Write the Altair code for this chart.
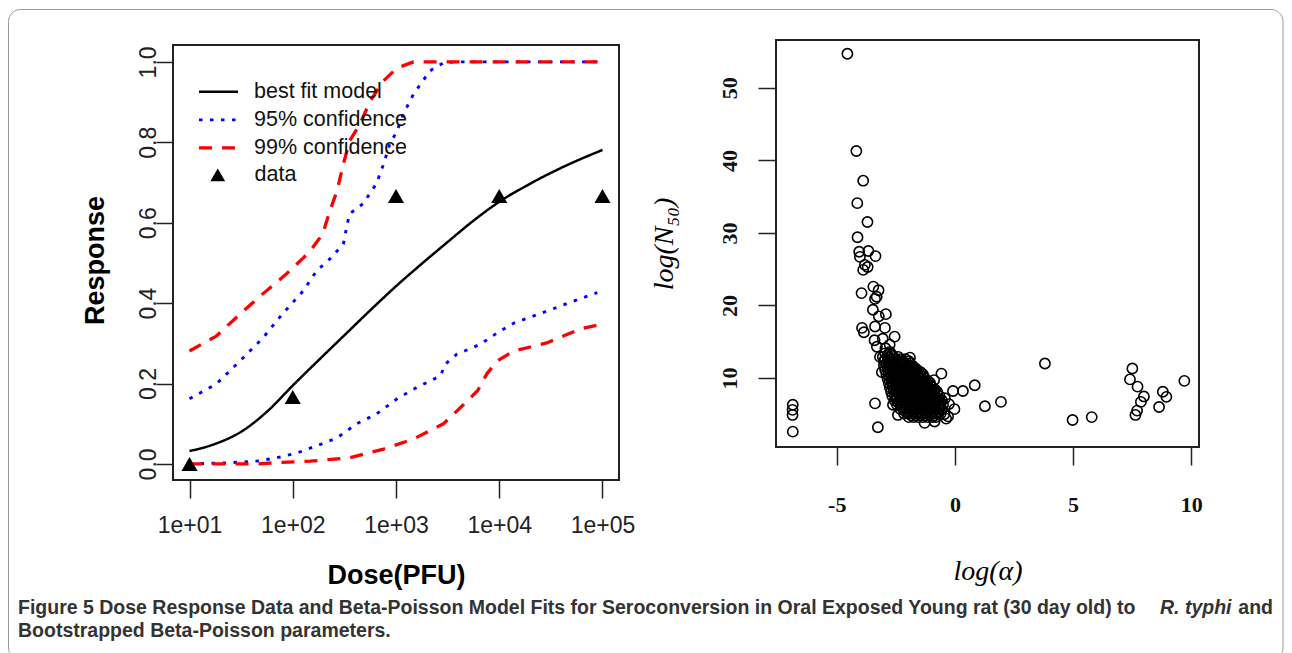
import altair as alt
import pandas as pd

# ---------------- Left panel: dose response (x = log10 dose) ----------------
best_x = [1.0, 1.25, 1.5, 1.75, 2.0, 2.25, 2.5, 2.75, 3.0, 3.25, 3.5, 3.75, 4.0, 4.25, 4.5, 4.75, 5.0]
best_y = [0.032, 0.050, 0.080, 0.130, 0.195, 0.258, 0.320, 0.382, 0.442, 0.498, 0.552, 0.605, 0.652, 0.690, 0.724, 0.754, 0.781]

ci95_up_x = [1.0, 1.26, 1.52, 1.71, 1.90, 2.10, 2.23, 2.36, 2.49, 2.52, 2.55, 2.68, 2.81, 2.88, 2.94, 3.01, 3.07, 3.17, 3.33, 3.46, 3.6, 5.0]
ci95_up_y = [0.162, 0.199, 0.264, 0.313, 0.373, 0.43, 0.48, 0.51, 0.547, 0.587, 0.622, 0.647, 0.697, 0.746, 0.796, 0.828, 0.87, 0.92, 0.978, 0.998, 1.0, 1.0]
ci95_lo_x = [1.0, 1.39, 1.65, 1.84, 2.04, 2.23, 2.43, 2.62, 2.81, 3.01, 3.20, 3.43, 3.48, 3.59, 3.82, 3.98, 4.14, 4.46, 4.72, 4.95]
ci95_lo_y = [0.0, 0.003, 0.007, 0.015, 0.027, 0.045, 0.065, 0.10, 0.124, 0.162, 0.19, 0.219, 0.249, 0.273, 0.298, 0.326, 0.35, 0.38, 0.405, 0.426]

ci99_up_x = [1.0, 1.26, 1.49, 1.71, 1.94, 2.10, 2.17, 2.29, 2.36, 2.43, 2.49, 2.55, 2.65, 2.75, 2.88, 3.01, 3.17, 5.0]
ci99_up_y = [0.281, 0.318, 0.373, 0.423, 0.473, 0.512, 0.53, 0.572, 0.63, 0.68, 0.746, 0.803, 0.845, 0.903, 0.953, 0.985, 1.0, 1.0]
ci99_lo_x = [1.0, 1.65, 1.84, 2.17, 2.55, 2.88, 3.17, 3.46, 3.62, 3.79, 3.88, 3.98, 4.14, 4.46, 4.62, 4.79, 5.0]
ci99_lo_y = [0.0, 0.0, 0.003, 0.007, 0.015, 0.037, 0.062, 0.10, 0.139, 0.182, 0.224, 0.256, 0.281, 0.301, 0.318, 0.336, 0.348]

obs_x = [1, 2, 3, 4, 5]
obs_y = [0.0, 0.1667, 0.6667, 0.6667, 0.6667]

series_names = ["best fit model", "95% confidence", "99% confidence"]
dose_ticks = [1, 2, 3, 4, 5]
resp_ticks = [0, 0.2, 0.4, 0.6, 0.8, 1.0]

# ---------------- Right panel: bootstrapped parameters ----------------
out_alpha = [-4.55, -4.17, -3.88, -4.13, -3.70, -4.12, -4.05, -3.66, -3.36, -3.88, -3.69, -3.81, -4.02,
             -3.95, -3.45, -3.23, -3.31, -3.38, -3.47, -2.92, -3.22, -3.93, -3.85, -3.38, -3.40, -2.96,
             -2.55, -3.17, -2.94, -2.76, -2.75, -1.90, -3.09, -1.66, -0.57, -0.88, -0.08, 0.34, 0.84,
             -0.02, 1.27, 1.95, 3.81, 4.98, 5.79,
             7.51, 7.41, 7.73, 8.00, 7.87, 7.71, 7.64, 8.64, 8.80, 8.95, 9.71,
             -6.86, -6.87, -6.87, -6.86, -3.38, -3.26,
             -2.41, -2.62, -0.29, -0.86, -1.28, -0.37, -0.42, -0.25, -0.45, -3.30, -3.05]
out_n50 = [54.7, 41.3, 37.2, 34.1, 31.5, 29.4, 27.4, 27.5, 26.8, 24.9, 25.3, 25.6, 26.7,
           21.7, 22.6, 22.1, 21.2, 20.9, 19.4, 18.8, 18.5, 16.9, 16.3, 17.1, 15.2, 16.9,
           15.7, 12.9, 14.1, 14.6, 13.6, 12.8, 10.8, 11.2, 10.6, 9.7, 8.2, 8.2, 9.0,
           5.7, 6.1, 6.7, 12.0, 4.2, 4.6,
           11.3, 9.8, 8.8, 7.45, 6.7, 5.5, 4.9, 6.0, 8.1, 7.4, 9.6,
           6.3, 5.6, 4.9, 2.6, 6.5, 3.2,
           4.9, 6.3, 4.7, 4.0, 3.8, 4.4, 7.2, 6.4, 5.0, 14.3, 15.4]

# dense core of the bootstrap cloud, one row of log(alpha) values per log(N50) level
core_rows = [
    (13.4, [-2.95, -2.75]),
    (13.15, [-2.85, -2.65]),
    (12.9, [-3.05, -2.85, -2.6, -2.4]),
    (12.6, [-2.95, -2.7, -2.5, -2.3, -2.1]),
    (12.3, [-3.0, -2.8, -2.6, -2.4, -2.2, -1.95]),
    (12.0, [-2.9, -2.7, -2.5, -2.3, -2.1, -1.9]),
    (11.7, [-3.0, -2.8, -2.6, -2.4, -2.2, -2.0, -1.8]),
    (11.4, [-2.85, -2.65, -2.45, -2.25, -2.05, -1.85, -1.7]),
    (11.1, [-2.95, -2.75, -2.55, -2.35, -2.15, -1.95, -1.75, -1.6]),
    (10.8, [-2.8, -2.6, -2.4, -2.2, -2.0, -1.8, -1.6, -1.45]),
    (10.5, [-2.9, -2.7, -2.5, -2.3, -2.1, -1.9, -1.7, -1.5, -1.35]),
    (10.2, [-2.75, -2.55, -2.35, -2.15, -1.95, -1.75, -1.55, -1.35]),
    (9.9, [-2.85, -2.65, -2.45, -2.25, -2.05, -1.85, -1.65, -1.45, -1.25]),
    (9.6, [-2.7, -2.5, -2.3, -2.1, -1.9, -1.7, -1.5, -1.3, -1.15]),
    (9.3, [-2.8, -2.6, -2.4, -2.2, -2.0, -1.8, -1.6, -1.4, -1.2, -1.05]),
    (9.0, [-2.65, -2.45, -2.25, -2.05, -1.85, -1.65, -1.45, -1.25, -1.05]),
    (8.7, [-2.75, -2.55, -2.35, -2.15, -1.95, -1.75, -1.55, -1.35, -1.15, -0.95]),
    (8.4, [-2.6, -2.4, -2.2, -2.0, -1.8, -1.6, -1.4, -1.2, -1.0, -0.85]),
    (8.1, [-2.7, -2.5, -2.3, -2.1, -1.9, -1.7, -1.5, -1.3, -1.1, -0.9, -0.75]),
    (7.8, [-2.55, -2.35, -2.15, -1.95, -1.75, -1.55, -1.35, -1.15, -0.95, -0.75]),
    (7.5, [-2.65, -2.45, -2.25, -2.05, -1.85, -1.65, -1.45, -1.25, -1.05, -0.85, -0.65]),
    (7.2, [-2.5, -2.3, -2.1, -1.9, -1.7, -1.5, -1.3, -1.1, -0.9, -0.7]),
    (6.9, [-2.55, -2.35, -2.15, -1.95, -1.75, -1.55, -1.35, -1.15, -0.95, -0.75, -0.55]),
    (6.6, [-2.4, -2.2, -2.0, -1.8, -1.6, -1.4, -1.2, -1.0, -0.8, -0.6]),
    (6.3, [-2.45, -2.25, -2.05, -1.85, -1.65, -1.45, -1.25, -1.05, -0.85, -0.65, -0.5]),
    (6.0, [-2.25, -2.05, -1.85, -1.65, -1.45, -1.25, -1.05, -0.85, -0.65]),
    (5.7, [-2.3, -2.1, -1.9, -1.7, -1.5, -1.3, -1.1, -0.9, -0.7, -0.55]),
    (5.4, [-2.1, -1.9, -1.7, -1.5, -1.3, -1.1, -0.9, -0.7]),
    (5.1, [-2.15, -1.95, -1.75, -1.55, -1.35, -1.15, -0.95, -0.75, -0.6]),
    (4.85, [-1.85, -1.65, -1.45, -1.25, -1.05, -0.85]),
    (4.6, [-1.95, -1.75, -1.55, -1.35, -1.15, -0.95, -0.8]),
]
alpha_ticks = [-5, 0, 5, 10]
n50_ticks = [10, 20, 30, 40, 50]

caption_main = ("Figure 5 Dose Response Data and Beta-Poisson Model Fits for Seroconversion "
                "in Oral Exposed Young rat (30 day old) to")
caption_italic = "R. typhi"
caption_end = "and"
caption_line2 = "Bootstrapped Beta-Poisson parameters."

# ---------------- tables ----------------
rows = []
def add(series, curve, xs, ys):
    for a, b in zip(xs, ys):
        rows.append({"x": a, "y": b, "series": series, "curve": curve})
add(series_names[0], "best", best_x, best_y)
add(series_names[1], "95up", ci95_up_x, ci95_up_y)
add(series_names[1], "95lo", ci95_lo_x, ci95_lo_y)
add(series_names[2], "99up", ci99_up_x, ci99_up_y)
add(series_names[2], "99lo", ci99_lo_x, ci99_lo_y)
lines_df = pd.DataFrame(rows)
obs_df = pd.DataFrame({"x": obs_x, "y": obs_y, "kind": ["data"] * len(obs_x)})

sc_a = list(out_alpha)
sc_n = list(out_n50)
for yv, xs in core_rows:
    for xv in xs:
        sc_a.append(xv)
        sc_n.append(yv)
scatter_df = pd.DataFrame({"a": sc_a, "n": sc_n})

SANS = "Liberation Sans, Arial, Helvetica, sans-serif"
SERIF = "Liberation Serif, Times New Roman, DejaVu Serif, serif"
INK = "#222222"
one = pd.DataFrame({"v": [0]})

# ---------------- left chart ----------------
sx = alt.Scale(domain=[0.84, 5.16], nice=False, zero=False)
sy = alt.Scale(domain=[-0.04, 1.0545], nice=False, zero=False)
xax = alt.Axis(values=dose_ticks, labelExpr="'1e+0' + datum.value", domain=False, grid=False,
               tickSize=18, tickWidth=1.5, tickColor=INK, labelFont=SANS, labelFontSize=23,
               labelColor=INK, labelPadding=16, labelFlush=False, labelOverlap=False,
               title="Dose(PFU)", titleFont=SANS, titleFontSize=27, titleFontWeight="bold",
               titleColor="black", titlePadding=25)
yax = alt.Axis(values=resp_ticks, format=".1f", domain=False, grid=False, tickSize=17,
               tickWidth=1.5, tickColor=INK, labelFont=SANS, labelFontSize=23, labelColor=INK,
               labelAngle=270, labelAlign="center", labelBaseline="alphabetic", labelPadding=1,
               labelFlush=False, labelOverlap=False,
               title="Response", titleFont=SANS, titleFontSize=27, titleFontWeight="bold",
               titleColor="black", titlePadding=28)

color_sc = alt.Scale(domain=series_names, range=["black", "#0000ff", "#ff0000"])
dash_sc = alt.Scale(domain=series_names, range=[[1, 0], [3.5, 7.5], [13, 10]])
width_sc = alt.Scale(domain=series_names, range=[2.5, 3.3, 3.0])
leg_lines = alt.Legend(title=None, orient="none", legendX=24, legendY=38, symbolType="stroke",
                       symbolSize=1521, symbolStrokeWidth=3, labelFont=SANS, labelFontSize=21.5,
                       labelColor="#111111", labelOffset=14, clipHeight=27.7, rowPadding=0,
                       padding=0, labelLimit=400)
leg_pts = alt.Legend(title=None, orient="none", legendX=34, legendY=121, symbolSize=220,
                     symbolFillColor="black", symbolStrokeColor="black", symbolStrokeWidth=0,
                     labelFont=SANS, labelFontSize=21.5, labelColor="#111111", labelOffset=26,
                     clipHeight=27.7, rowPadding=0, padding=0, labelLimit=400)

def line_layer(name, interp):
    return alt.Chart(lines_df).transform_filter(alt.datum.series == name).mark_line(
        strokeCap="butt", strokeJoin="round", interpolate=interp).encode(
        x=alt.X("x:Q", scale=sx, axis=xax),
        y=alt.Y("y:Q", scale=sy, axis=yax),
        color=alt.Color("series:N", scale=color_sc, legend=leg_lines),
        strokeDash=alt.StrokeDash("series:N", scale=dash_sc, legend=leg_lines),
        strokeWidth=alt.StrokeWidth("series:N", scale=width_sc, legend=None),
        detail="curve:N",
    )

pts = alt.Chart(obs_df).mark_point(filled=True, color="black", opacity=1, size=260).encode(
    x=alt.X("x:Q", scale=sx, axis=xax),
    y=alt.Y("y:Q", scale=sy, axis=yax),
    shape=alt.Shape("kind:N", scale=alt.Scale(domain=["data"], range=["triangle-up"]), legend=leg_pts),
)

# plot frame of the left panel (its top sits 5px below the shared top line)
left_box = alt.Chart(one).mark_rect(fillOpacity=0, stroke=INK, strokeWidth=2).encode(
    x=alt.value(0), x2=alt.value(446), y=alt.value(5), y2=alt.value(440))

# figure frame and caption (positions relative to the left plot's origin)
frame = alt.Chart(one).mark_rect(fillOpacity=0, stroke="#9a9a9a", strokeWidth=1,
                                 cornerRadius=12).encode(
    x=alt.value(-164.5), x2=alt.value(1110), y=alt.value(-30.5), y2=alt.value(620))

CAP_SIZE = 19.5
def cap_text(txt, x, y, align="left", style="normal"):
    return alt.Chart(pd.DataFrame({"t": [txt]})).mark_text(
        align=align, baseline="alphabetic", font=SANS, fontSize=CAP_SIZE, fontWeight="bold",
        fontStyle=style, color="#333333").encode(text="t:N", x=alt.value(x), y=alt.value(y))

left = alt.layer(
    frame, left_box,
    line_layer(series_names[0], "monotone"), line_layer(series_names[1], "linear"),
    line_layer(series_names[2], "linear"), pts,
    cap_text(caption_main, -155, 574),
    cap_text(caption_italic, 987, 574, style="italic"),
    cap_text(caption_end, 1100, 574, align="right"),
    cap_text(caption_line2, -155, 597),
).properties(width=446, height=440)

# ---------------- right chart ----------------
rx = alt.Scale(domain=[-7.57, 10.33], nice=False, zero=False)
ry = alt.Scale(domain=[0.48, 56.6], nice=False, zero=False)
right = alt.Chart(scatter_df).mark_point(shape="circle", filled=False, size=105, strokeWidth=1.6,
                                         color="black", opacity=1).encode(
    x=alt.X("a:Q", scale=rx, axis=alt.Axis(
        values=alpha_ticks, labelExpr="'' + datum.value", domain=False, grid=False, tickSize=18,
        tickWidth=1.5, tickColor=INK, labelFont=SERIF, labelFontSize=22, labelFontWeight="bold",
        labelColor="#111111", labelPadding=29, labelFlush=False, labelOverlap=False,
        title="log(α)", titleFont=SERIF, titleFontSize=28, titleFontStyle="italic",
        titleFontWeight="normal", titleColor="black", titlePadding=42)),
    y=alt.Y("n:Q", scale=ry, axis=alt.Axis(
        values=n50_ticks, domain=False, grid=False, tickSize=18, tickWidth=1.5, tickColor=INK,
        labelFont=SERIF, labelFontSize=22, labelFontWeight="bold", labelColor="#111111",
        labelAngle=270, labelAlign="center", labelBaseline="alphabetic", labelPadding=22,
        labelFlush=False, labelOverlap=False,
        title="log(N₅₀)", titleFont=SERIF, titleFontSize=28, titleFontStyle="italic",
        titleFontWeight="normal", titleColor="black", titlePadding=40)),
).properties(width=423, height=407, view=alt.ViewBackground(stroke=INK, strokeWidth=2))

chart = alt.hconcat(left, right, spacing=157, bounds="flush").properties(
    padding={"left": 0, "top": 1, "right": 0, "bottom": 0}
).configure_view(strokeWidth=0)

chart.save("out.html", embed_options={"renderer": "svg", "actions": False})
